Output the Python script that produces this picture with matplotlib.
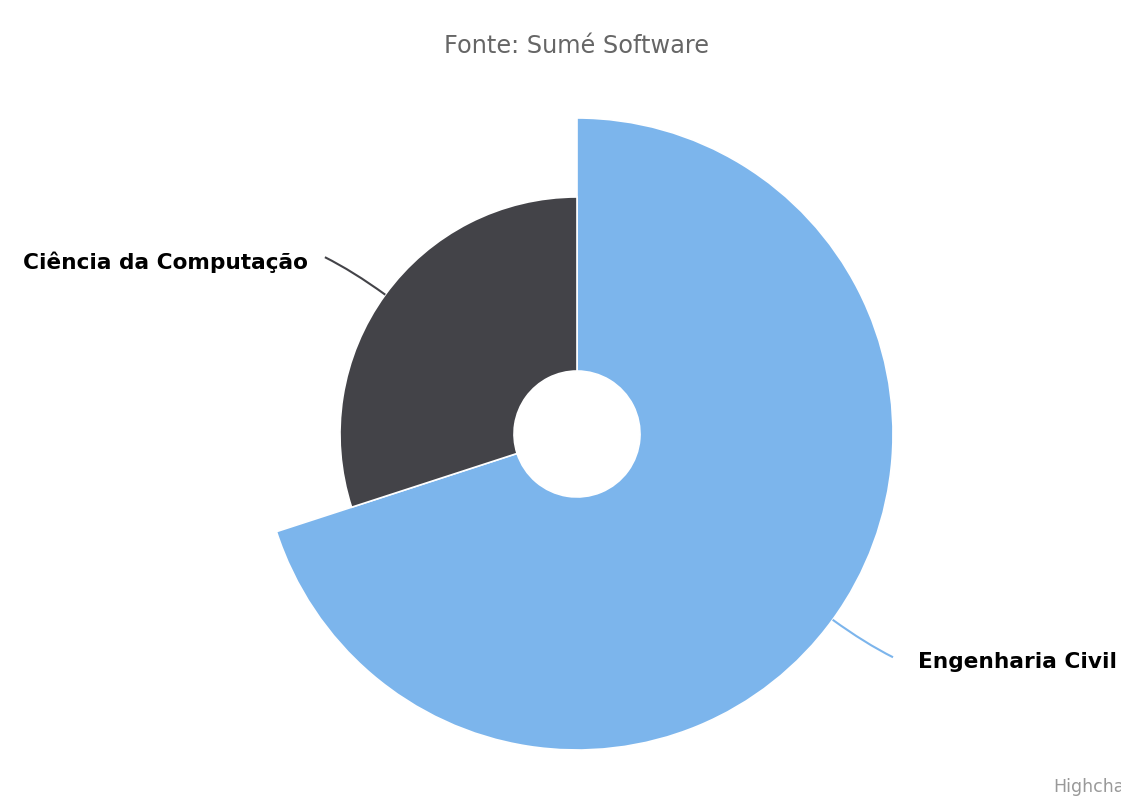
import numpy as np
import matplotlib.pyplot as plt
from matplotlib.patches import Wedge, PathPatch
from matplotlib.path import Path

# dados do gráfico
cursos = ['Engenharia Civil', 'Ciência da Computação']
valores = [70, 30]          # participação (%)
z = [100, 75]               # tamanho relativo do raio (variable pie)
cores = ['#7cb5ec', '#434348']

W, H = 1121, 797
fig = plt.figure(figsize=(W / 100, H / 100), dpi=100)
ax = fig.add_axes([0, 0, 1, 1])
ax.set_xlim(0, W)
ax.set_ylim(0, H)
ax.axis('off')

cx, cy = 577, H - 434
rmax = 316
rin = 63

total = sum(valores)
start = 90.0
for nome, v, zz, cor in zip(cursos, valores, z, cores):
    ang = v / total * 360
    r = rmax * zz / max(z)
    # sentido horário a partir do topo
    t1, t2 = start - ang, start
    ax.add_patch(Wedge((cx, cy), r, t1, t2, width=r - rin,
                       facecolor=cor, edgecolor='white', linewidth=1.2))
    mid = np.deg2rad((t1 + t2) / 2)
    dx, dy = np.cos(mid), np.sin(mid)
    p0 = (cx + r * dx, cy + r * dy)
    p1 = (cx + (r + 40) * dx, cy + (r + 40) * dy)
    if dx >= 0:
        p2 = (p1[0] + 28, p1[1] - 14)
        tx, ha = p2[0] + 25, 'left'
    else:
        p2 = (p1[0] - 28, p1[1] + 14)
        tx, ha = p2[0] - 17, 'right'
    path = Path([p0, p1, p2], [Path.MOVETO, Path.CURVE3, Path.CURVE3])
    ax.add_patch(PathPatch(path, facecolor='none', edgecolor=cor, linewidth=1.5))
    ax.text(tx, p2[1] - 5, nome, ha=ha, va='center', fontsize=15.6,
            fontweight='bold', color='black')
    start = t1

ax.text(cx, H - 46, 'Fonte: Sumé Software', ha='center', va='center',
        fontsize=17.3, color='#666666')
ax.text(1053, H - 787, 'Highcharts.com', ha='left', va='center',
        fontsize=12.5, color='#999999')

fig.savefig('out.png', dpi=100, facecolor='white')
